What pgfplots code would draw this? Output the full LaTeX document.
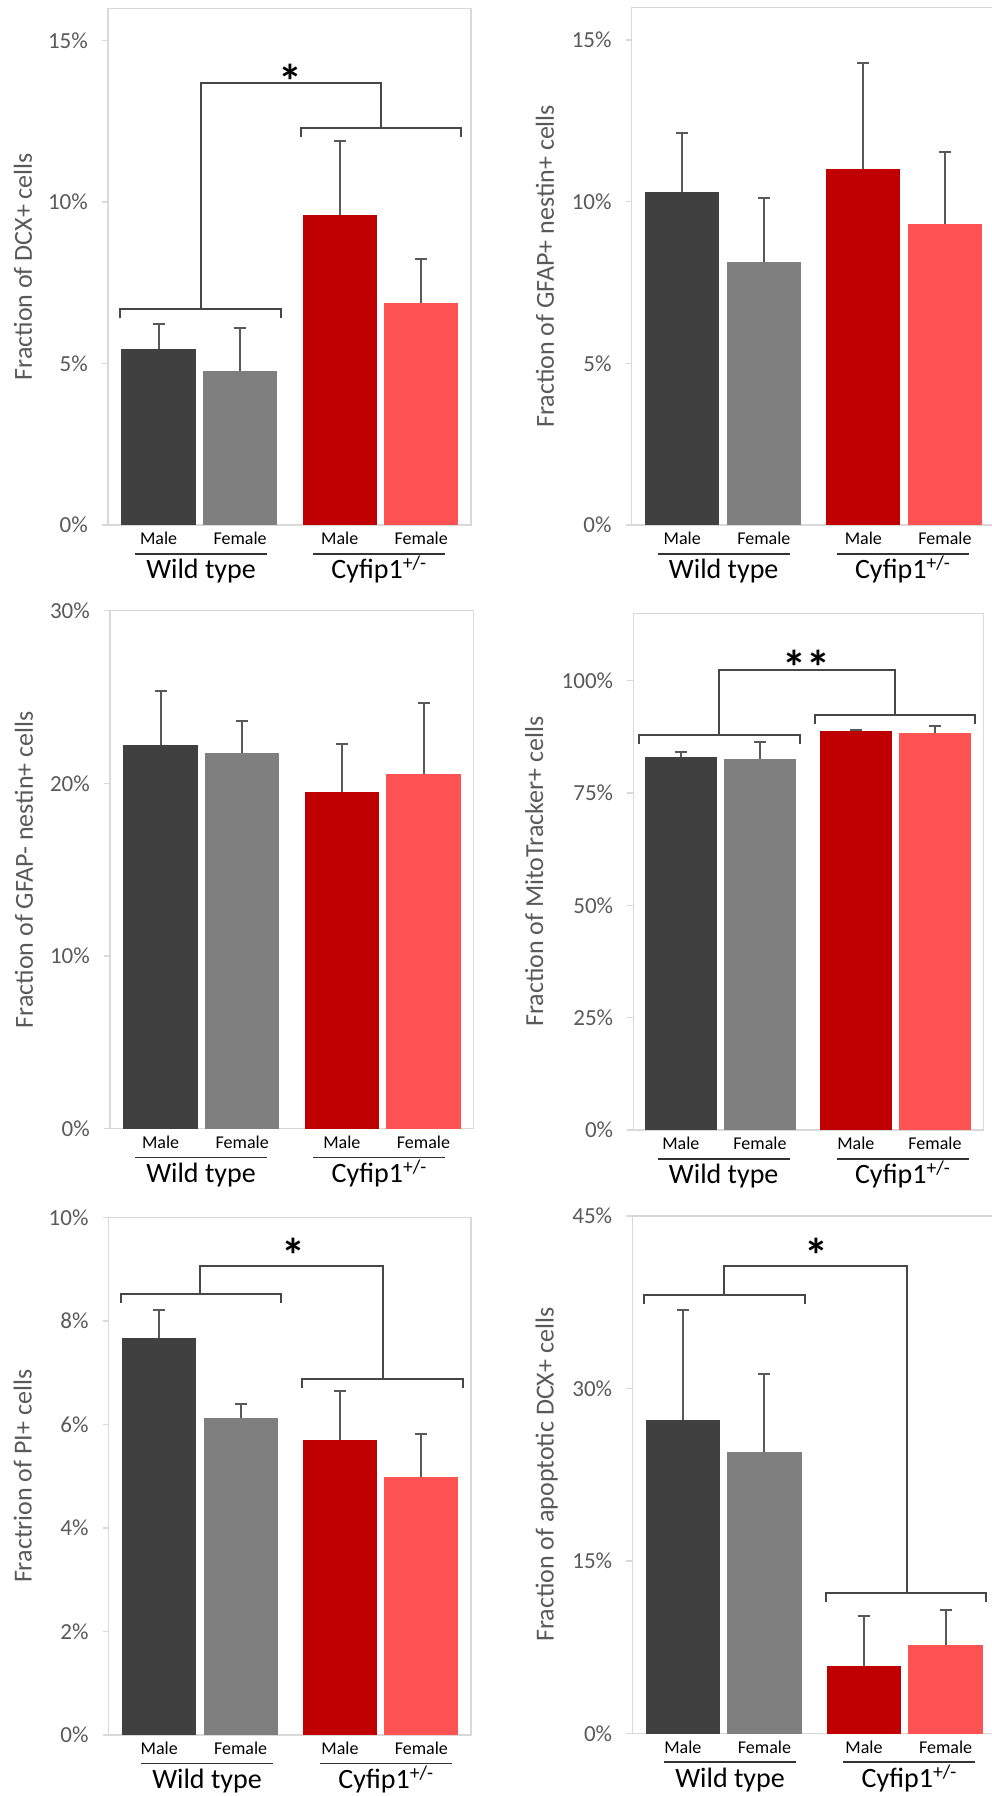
\documentclass[border=0pt]{standalone}
\usepackage{fontspec}
\setmainfont{Carlito}
\usepackage{pgfplots}
\pgfplotsset{compat=1.18}
\definecolor{cA}{HTML}{404040}
\definecolor{cB}{HTML}{7F7F7F}
\definecolor{cC}{HTML}{C00000}
\definecolor{cD}{HTML}{FF5353}
\definecolor{framec}{HTML}{D9D9D9}
\definecolor{errc}{HTML}{595959}
\definecolor{brc}{HTML}{474747}
\definecolor{labgray}{HTML}{595959}
\newcommand\tickfont{\fontsize{23}{27}\selectfont}
\newcommand\catfont{\fontsize{18}{21}\selectfont}
\newcommand\grpfont{\fontsize{28}{33}\selectfont}
\newcommand\ylabfont{\fontsize{26}{31}\selectfont}
\newcommand\starfont{\bfseries\fontsize{48}{56}\selectfont}
\tikzset{brs/.style={brc, line width=2pt}}
\pgfplotsset{
 panel/.style={
  scale only axis, clip=false,
  xmin=-0.62, xmax=3.83, ymin=0,
  axis line style={draw=framec, line width=1.4pt},
  xtick={0,1,2.22,3.22}, xticklabels={Male,Female,Male,Female},
  xtick style={draw=none},
  ytick style={draw=framec, line width=1.4pt},
  ytick pos=left, tick align=outside, major tick length=6pt,
  yticklabel style={font=\tickfont, text=labgray, anchor=east, inner sep=0pt, xshift=-14pt},
  xticklabel style={font=\catfont, text=black, anchor=base, inner sep=0pt, yshift=-14pt},
 },
 bars/.style={ybar, bar width=0.91, bar shift=0pt, draw=none, fill=#1,
   error bars/.cd, y dir=plus, y explicit, error mark=-,
   error bar style={errc, line width=2pt},
   error mark options={rotate=90, errc, line width=2pt, mark size=6pt}},
}
\newcommand\groups[2]{%
 \draw[black!80, line width=1.8pt] ([xshift=#1pt,yshift=-28.7pt]rel axis cs:0,0) -- ([xshift=#1pt+132pt,yshift=-28.7pt]rel axis cs:0,0);
 \draw[black!80, line width=1.8pt] ([xshift=#2pt,yshift=-28.7pt]rel axis cs:0,0) -- ([xshift=#2pt+132pt,yshift=-28.7pt]rel axis cs:0,0);
 \node[font=\grpfont, anchor=base, inner sep=0pt] at ([xshift=#1pt+66pt,yshift=-54pt]rel axis cs:0,0) {Wild type};
 \node[font=\grpfont, anchor=base, inner sep=0pt] at ([xshift=#2pt+66pt,yshift=-54pt]rel axis cs:0,0) {Cyfip1\textsuperscript{+/-}};
}
\newcommand\ylab[2]{%
 \node[rotate=90, font=\ylabfont, text=labgray, anchor=center, inner sep=0pt] at ([xshift=#1pt]rel axis cs:0,0.5) {#2};
}
% x1 x2 y stem | x3 x4 y stem | top
\newcommand\brk[9]{%
 \draw[brs] ([yshift=-9pt]axis cs:#1,#3) -- (axis cs:#1,#3) -- (axis cs:#2,#3) -- ([yshift=-9pt]axis cs:#2,#3);
 \draw[brs] ([yshift=-9pt]axis cs:#5,#7) -- (axis cs:#5,#7) -- (axis cs:#6,#7) -- ([yshift=-9pt]axis cs:#6,#7);
 \draw[brs] (axis cs:#4,#3) -- (axis cs:#4,#9) -- (axis cs:#8,#9) -- (axis cs:#8,#7);
}
\newcommand\sigstar[3]{%
 \node[font=\starfont, anchor=base, inner sep=0pt] at ([yshift=-29pt]axis cs:#1,#2) {#3};
}
\begin{document}
\begin{tikzpicture}
\useasboundingbox (0,0) rectangle (991pt,1796pt);
% ---------- Panel 1 ----------
\begin{axis}[panel, at={(108pt,1271pt)}, anchor=south west, width=363pt, height=516.6pt,
  ymax=16, ytick={0,5,10,15}, yticklabels={0\%,5\%,10\%,15\%}]
\addplot[bars=cA] coordinates {(0,5.46) +- (0,0.77)};
\addplot[bars=cB] coordinates {(1,4.77) +- (0,1.32)};
\addplot[bars=cC] coordinates {(2.22,9.59) +- (0,2.29)};
\addplot[bars=cD] coordinates {(3.22,6.89) +- (0,1.36)};
\brk{-0.47}{1.50}{6.68}{0.515}{1.745}{3.71}{12.28}{2.73}{13.70}
\sigstar{1.62}{14.11}{*}
\groups{27}{205}
\ylab{-85}{Fraction of DCX+ cells}
\end{axis}
% ---------- Panel 2 ----------
\begin{axis}[panel, at={(631.7pt,1271pt)}, anchor=south west, width=363pt, height=517.3pt,
  ymax=16, ytick={0,5,10,15}, yticklabels={0\%,5\%,10\%,15\%}]
\addplot[bars=cA] coordinates {(0,10.30) +- (0,1.81)};
\addplot[bars=cB] coordinates {(1,8.13) +- (0,1.97)};
\addplot[bars=cC] coordinates {(2.22,11.00) +- (0,3.28)};
\addplot[bars=cD] coordinates {(3.22,9.32) +- (0,2.23)};
\groups{26}{205}
\ylab{-86.7}{Fraction of GFAP+ nestin+ cells}
\end{axis}
% ---------- Panel 3 ----------
\begin{axis}[panel, at={(110pt,667.2pt)}, anchor=south west, width=363.3pt, height=518.1pt,
  ymax=30, ytick={0,10,20,30}, yticklabels={0\%,10\%,20\%,30\%}]
\addplot[bars=cA] coordinates {(0,22.25) +- (0,3.08)};
\addplot[bars=cB] coordinates {(1,21.76) +- (0,1.84)};
\addplot[bars=cC] coordinates {(2.22,19.53) +- (0,2.74)};
\addplot[bars=cD] coordinates {(3.22,20.56) +- (0,4.11)};
\groups{25}{203.3}
\ylab{-86}{Fraction of GFAP- nestin+ cells}
\end{axis}
% ---------- Panel 4 ----------
\begin{axis}[panel, at={(633.3pt,666pt)}, anchor=south west, width=350pt, height=516.6pt,
  xmin=-0.60, xmax=3.82, xtick={0,1,2.21,3.21},
  ymax=115, ytick={0,25,50,75,100}, yticklabels={0\%,25\%,50\%,75\%,100\%}]
\addplot[bars=cA] coordinates {(0,83.1) +- (0,1.1)};
\addplot[bars=cB] coordinates {(1,82.6) +- (0,3.7)};
\addplot[bars=cC] coordinates {(2.21,88.9) +- (0,0.25)};
\addplot[bars=cD] coordinates {(3.21,88.4) +- (0,1.6)};
\brk{-0.527}{1.506}{87.9}{0.484}{1.69}{3.716}{92.4}{2.706}{102.4}
\sigstar{1.587}{105.6}{**}
\groups{24.4}{203.4}
\ylab{-99}{Fraction of MitoTracker+ cells}
\end{axis}
% ---------- Panel 5 ----------
\begin{axis}[panel, at={(108.7pt,61.2pt)}, anchor=south west, width=362.3pt, height=517pt,
  ymax=10, ytick={0,2,4,6,8,10}, yticklabels={0\%,2\%,4\%,6\%,8\%,10\%}]
\addplot[bars=cA] coordinates {(0,7.67) +- (0,0.55)};
\addplot[bars=cB] coordinates {(1,6.13) +- (0,0.27)};
\addplot[bars=cC] coordinates {(2.22,5.70) +- (0,0.95)};
\addplot[bars=cD] coordinates {(3.22,4.99) +- (0,0.83)};
\brk{-0.47}{1.50}{8.52}{0.50}{1.76}{3.73}{6.89}{2.745}{9.07}
\sigstar{1.65}{9.5}{*}
\groups{32.3}{211.3}
\ylab{-86}{Fractrion of PI+ cells}
\end{axis}
% ---------- Panel 6 ----------
\begin{axis}[panel, at={(632.3pt,62.4pt)}, anchor=south west, width=363pt, height=517.7pt,
  ymax=45, ytick={0,15,30,45}, yticklabels={0\%,15\%,30\%,45\%}]
\addplot[bars=cA] coordinates {(0,27.23) +- (0,9.6)};
\addplot[bars=cB] coordinates {(1,24.46) +- (0,6.77)};
\addplot[bars=cC] coordinates {(2.22,5.90) +- (0,4.33)};
\addplot[bars=cD] coordinates {(3.22,7.70) +- (0,3.03)};
\brk{-0.48}{1.496}{38.1}{0.508}{1.756}{3.72}{12.23}{2.744}{40.66}
\sigstar{1.64}{42.56}{*}
\groups{31.7}{211}
\ylab{-85.6}{Fraction of apoptotic DCX+ cells}
\end{axis}
\end{tikzpicture}
\end{document}
